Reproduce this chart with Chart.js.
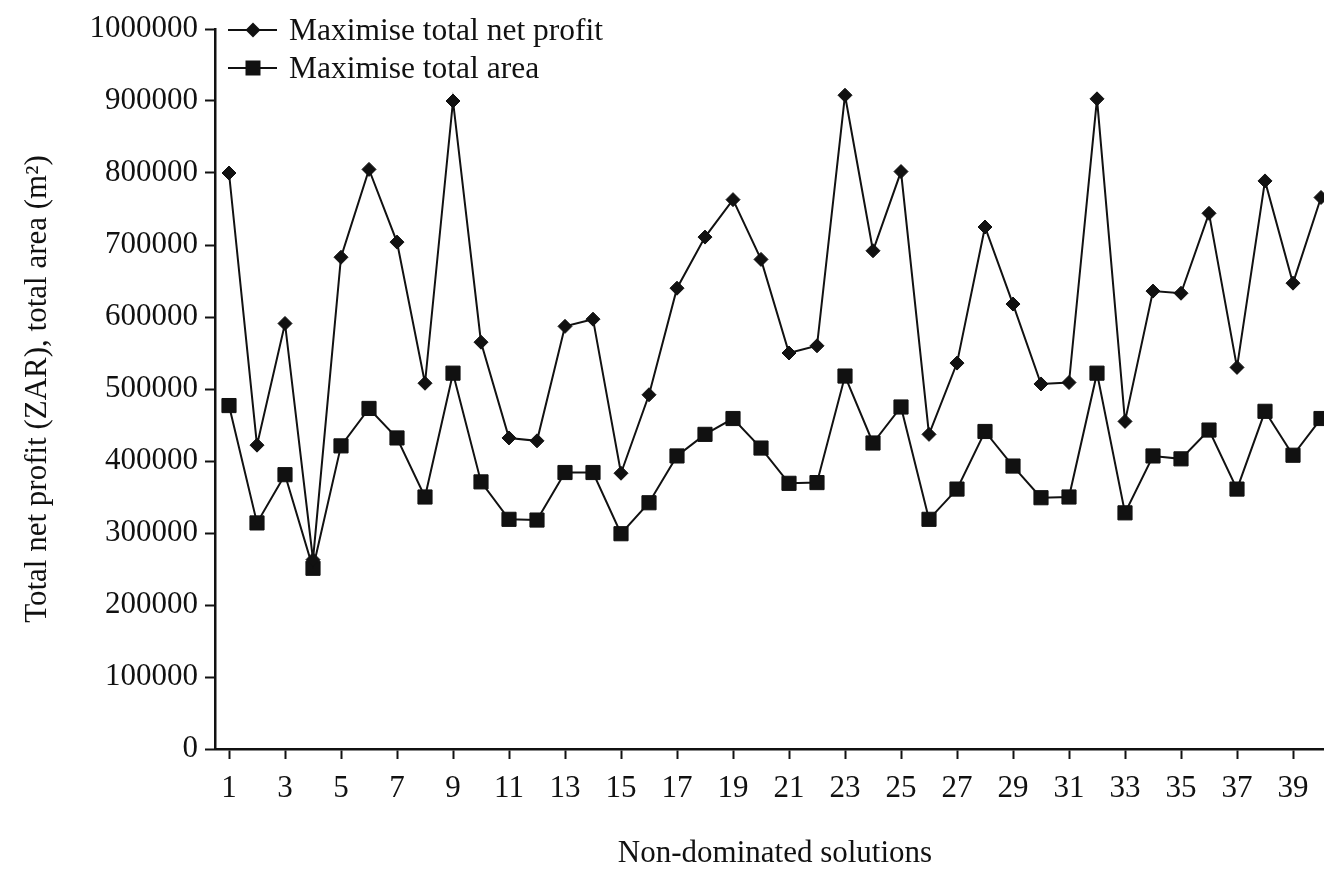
<!DOCTYPE html>
<html>
<head>
<meta charset="utf-8">
<title>Non-dominated solutions</title>
<script src="https://cdn.jsdelivr.net/npm/chart.js@4.4.1/dist/chart.umd.min.js"></script>
<style>
  html, body { margin: 0; padding: 0; background: #fff; overflow: hidden; }
  #wrap { position: absolute; left: 0; top: 0; width: 1346px; height: 872px; }
</style>
</head>
<body>
<div id="wrap"><canvas id="chart" width="1346" height="872"></canvas></div>
<script>
// Non-dominated solutions (1..40)
const solutions = ['1','2','3','4','5','6','7','8','9','10',
  '11','12','13','14','15','16','17','18','19','20',
  '21','22','23','24','25','26','27','28','29','30',
  '31','32','33','34','35','36','37','38','39','40'];

// Total net profit (ZAR) of each solution
const netProfit = [800000, 422000, 591000, 263000, 683000, 805000, 704000, 508000, 900000, 565000,
  432000, 428000, 587000, 597000, 383000, 492000, 640000, 711000, 763000, 680000,
  550000, 560000, 908000, 692000, 802000, 437000, 536000, 725000, 618000, 507000,
  509000, 903000, 455000, 636000, 633000, 744000, 530000, 789000, 647000, 766000];

// Total area (m²) of each solution
const totalArea = [477000, 314000, 381000, 251000, 421000, 473000, 432000, 350000, 522000, 371000,
  319000, 318000, 384000, 384000, 299000, 342000, 407000, 437000, 459000, 418000,
  369000, 370000, 518000, 425000, 475000, 319000, 361000, 441000, 393000, 349000,
  350000, 522000, 328000, 407000, 403000, 443000, 361000, 469000, 408000, 459000];

// Value axis ticks
const yTicks = [0, 100000, 200000, 300000, 400000, 500000, 600000, 700000, 800000, 900000, 1000000];

const seriesNames = ['Maximise total net profit', 'Maximise total area'];

const INK = '#111';
const FONT = 'Liberation Serif, Times New Roman, serif';

// Legend drawn inside the plot: a short line with the series marker, then the name
const insideLegend = {
  id: 'insideLegend',
  afterDraw(chart) {
    const ctx = chart.ctx;
    const rows = [{ y: 30, style: 'diamond' }, { y: 68, style: 'square' }];
    ctx.save();
    rows.forEach((row, i) => {
      ctx.strokeStyle = INK;
      ctx.lineWidth = 2;
      ctx.beginPath();
      ctx.moveTo(228, row.y);
      ctx.lineTo(277, row.y);
      ctx.stroke();
      ctx.fillStyle = INK;
      ctx.beginPath();
      if (row.style === 'diamond') {
        ctx.moveTo(253, row.y - 7.5);
        ctx.lineTo(260.5, row.y);
        ctx.lineTo(253, row.y + 7.5);
        ctx.lineTo(245.5, row.y);
        ctx.closePath();
      } else {
        ctx.rect(245.5, row.y - 7.5, 15, 15);
      }
      ctx.fill();
      ctx.font = '31.5px ' + FONT;
      ctx.textAlign = 'left';
      ctx.textBaseline = 'middle';
      ctx.fillText(seriesNames[i], 289, row.y + 2);
    });
    ctx.restore();
  }
};

new Chart(document.getElementById('chart'), {
  type: 'line',
  data: {
    labels: solutions,
    datasets: [
      {
        label: seriesNames[0],
        data: netProfit,
        borderColor: INK,
        backgroundColor: INK,
        borderWidth: 2,
        tension: 0,
        pointStyle: 'rectRot',
        pointRadius: 7,
        pointBorderWidth: 1,
        pointBackgroundColor: INK,
        pointBorderColor: INK,
        fill: false
      },
      {
        label: seriesNames[1],
        data: totalArea,
        borderColor: INK,
        backgroundColor: INK,
        borderWidth: 2,
        tension: 0,
        pointStyle: 'rect',
        pointRadius: 10,
        pointBorderWidth: 1,
        pointBackgroundColor: INK,
        pointBorderColor: INK,
        fill: false
      }
    ]
  },
  options: {
    responsive: false,
    devicePixelRatio: 1,
    animation: false,
    layout: { padding: { top: 29, right: 5, bottom: 0, left: 0 } },
    plugins: {
      legend: { display: false },
      tooltip: { enabled: false }
    },
    scales: {
      x: {
        type: 'category',
        offset: true,
        afterBuildTicks(scale) {
          scale.ticks = scale.ticks.filter((t, i) => i % 2 === 0);
        },
        afterFit(scale) { scale.height = 123; },
        grid: {
          display: true,
          drawOnChartArea: false,
          drawTicks: true,
          tickLength: 10,
          tickWidth: 2,
          tickColor: INK
        },
        border: { display: true, color: INK, width: 2.5 },
        ticks: {
          autoSkip: false,
          maxRotation: 0,
          padding: 11,
          color: INK,
          font: { family: FONT, size: 31 }
        },
        title: {
          display: true,
          text: 'Non-dominated solutions',
          color: INK,
          font: { family: FONT, size: 31 },
          padding: { top: 0, bottom: 0 }
        }
      },
      y: {
        type: 'linear',
        min: 0,
        max: 1000000,
        afterBuildTicks(scale) {
          scale.ticks = yTicks.map(v => ({ value: v }));
        },
        afterFit(scale) { scale.width = 215; },
        grid: {
          display: true,
          drawOnChartArea: false,
          drawTicks: true,
          tickLength: 10,
          tickWidth: 2,
          tickColor: INK
        },
        border: { display: true, color: INK, width: 2.5 },
        ticks: {
          padding: 7,
          color: INK,
          font: { family: FONT, size: 31 },
          callback: v => String(v)
        },
        title: {
          display: true,
          text: 'Total net profit (ZAR), total area (m²)',
          color: INK,
          font: { family: FONT, size: 31 },
          padding: { top: 19, bottom: 0 }
        }
      }
    }
  },
  plugins: [insideLegend]
});
</script>
</body>
</html>
